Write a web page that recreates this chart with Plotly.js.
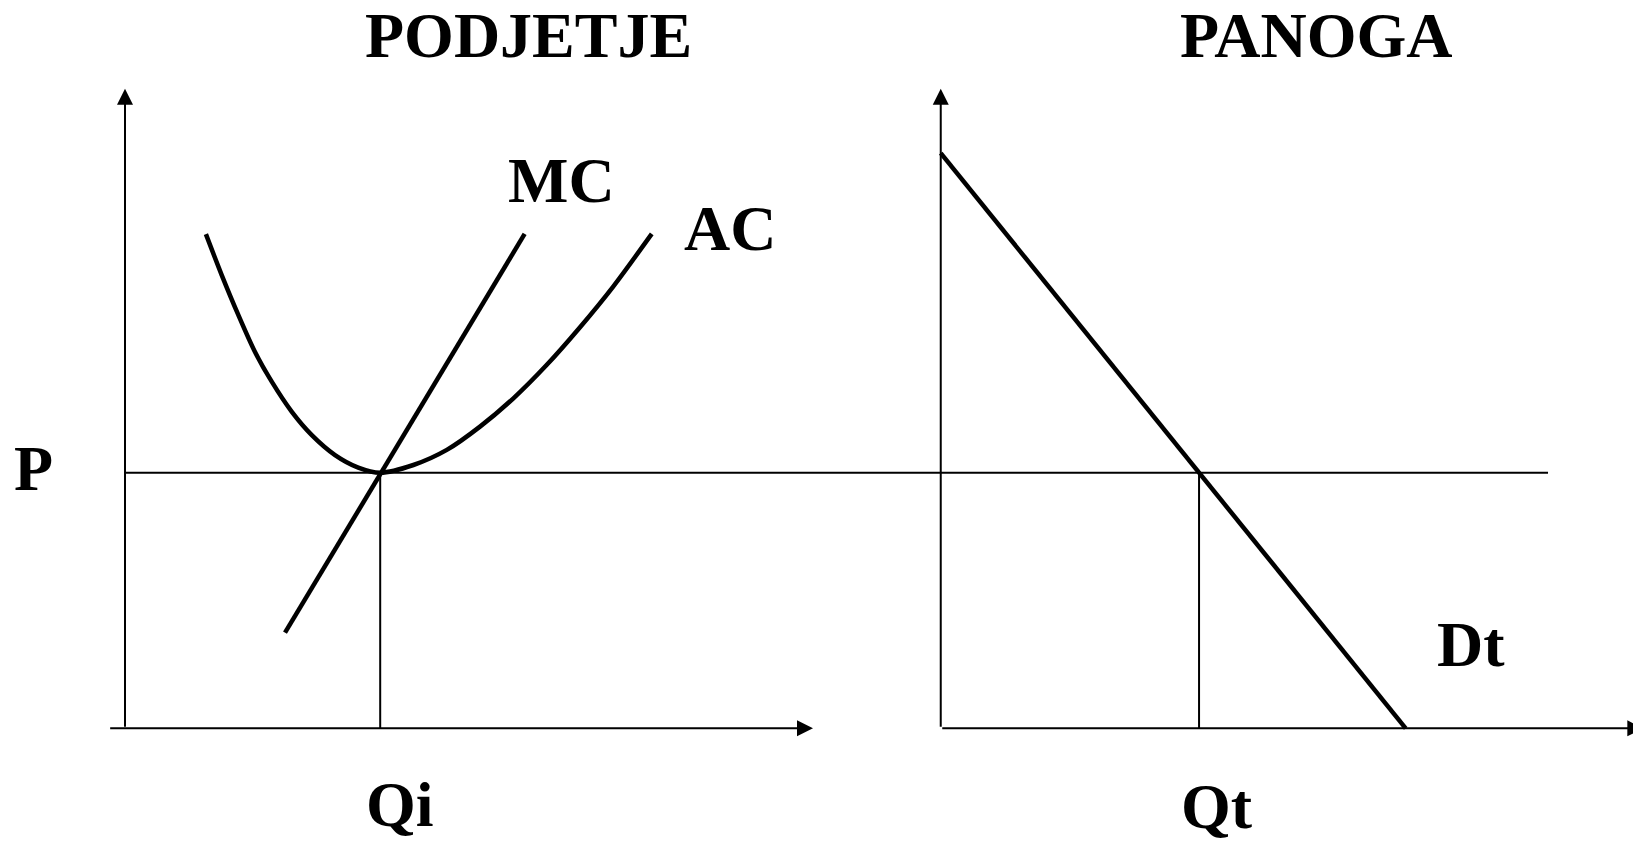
<!DOCTYPE html>
<html>
<head>
<meta charset="utf-8">
<script src="https://cdn.plot.ly/plotly-3.0.1.min.js"></script>
<style>
  html, body { margin: 0; padding: 0; background: #fff; }
  #chart { width: 1633px; height: 843px; }
</style>
</head>
<body>
<div id="chart"></div>
<script>
// firm (PODJETJE) - quantity Q and cost P
const price = 10;
const firmQ = 10;
const mcQ = [6.27, 15.66];
const mcP = [3.74, 19.34];
const acQ = [3.17, 3.79, 4.44, 5.09, 5.75, 6.53, 7.32, 8.23, 9.14, 10.0, 11.3, 12.61, 13.91, 15.22, 16.52, 17.83, 19.13, 20.64];
const acP = [19.33, 17.73, 16.17, 14.73, 13.56, 12.39, 11.47, 10.69, 10.2, 10.0, 10.3, 10.89, 11.8, 12.91, 14.21, 15.69, 17.28, 19.34];

// industry (PANOGA) - demand
const demandQ = [0, 18];
const demandP = [22.5, 0];
const industryQ = demandQ[1] * (1 - price / demandP[0]);

const black = "#000";
const serif = "Liberation Serif, Times New Roman, serif";

const traces = [
  { x: acQ, y: acP, mode: "lines", line: { color: black, width: 4.5, shape: "spline", smoothing: 0.8 } },
  { x: mcQ, y: mcP, mode: "lines", line: { color: black, width: 4.5 } },
  { x: [firmQ, firmQ], y: [0, price], mode: "lines", line: { color: black, width: 2 } },
  { x: demandQ, y: demandP, xaxis: "x2", mode: "lines", line: { color: black, width: 4.5 } },
  { x: [industryQ, industryQ], y: [0, price], xaxis: "x2", mode: "lines", line: { color: black, width: 2 } }
];

// axis arrows: [xref, tail x, tail y, head x, head y]
const arrows = [
  ["x", 0, 0, 0, 25.02],
  ["x", -0.64, 0, 26.96, 0],
  ["x2", 0, 0, 0, 25.02],
  ["x2", 0, 0, 27.2, 0]
];

// labels: [text, xref, x, y]
const labels = [
  ["PODJETJE", "x", 15.83, 27.1],
  ["PANOGA", "x2", 14.53, 27.1],
  ["MC", "x", 17.1, 21.41],
  ["AC", "x", 23.71, 19.55],
  ["P", "x", -3.6, 10.18],
  ["Qi", "x", 10.78, -3.0],
  ["Qt", "x2", 10.69, -3.05],
  ["Dt", "x2", 20.51, 3.26]
];

const annotations = arrows.map(a => ({
  xref: a[0], yref: "y", axref: a[0], ayref: "y",
  x: a[3], y: a[4], ax: a[1], ay: a[2],
  text: "", showarrow: true, arrowhead: 2, arrowsize: 1.6, arrowwidth: 2,
  arrowcolor: black, standoff: 0
})).concat(labels.map(l => ({
  xref: l[1], yref: "y", x: l[2], y: l[3],
  text: "<b>" + l[0] + "</b>", showarrow: false,
  xanchor: "center", yanchor: "middle",
  font: { family: serif, size: 64, color: black }
})));

const hidden = { visible: false, showgrid: false, zeroline: false, fixedrange: true };

const layout = {
  width: 1633,
  height: 843,
  margin: { l: 0, r: 0, t: 0, b: 0 },
  paper_bgcolor: "#fff",
  plot_bgcolor: "#fff",
  showlegend: false,
  xaxis: Object.assign({ domain: [0, 1], range: [-4.898, 59.09] }, hidden),
  xaxis2: Object.assign({ domain: [0, 1], range: [-36.42, 26.8], overlaying: "x" }, hidden),
  yaxis: Object.assign({ domain: [0, 1], range: [-4.487, 28.49] }, hidden),
  shapes: [
    { type: "line", xref: "x", yref: "y", x0: 0, x1: 55.76, y0: price, y1: price,
      line: { color: black, width: 2 } }
  ],
  annotations: annotations
};

Plotly.newPlot("chart", traces, layout, { staticPlot: true });
</script>
</body>
</html>
